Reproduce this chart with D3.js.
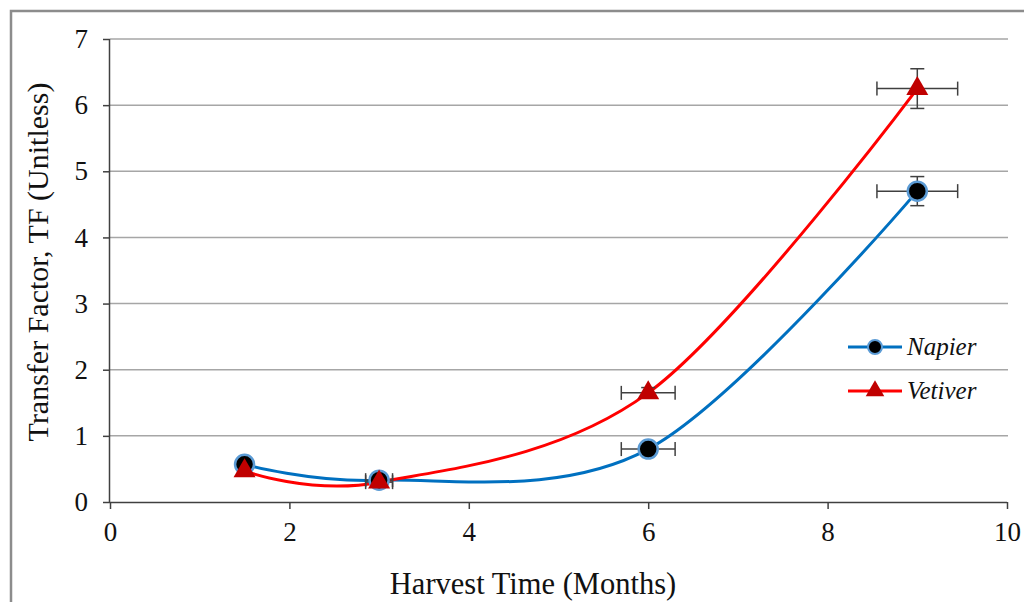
<!DOCTYPE html>
<html>
<head>
<meta charset="utf-8">
<script src="https://cdn.jsdelivr.net/npm/d3@7/dist/d3.min.js"></script>
<style>
  html, body { margin: 0; padding: 0; background: #fff; }
  svg { display: block; }
  svg text { font-family: "Liberation Serif", "Times New Roman", serif !important; fill: #111; }
</style>
</head>
<body>
<svg id="chart" width="1024" height="602"></svg>
<script>
// ---- data ----
const months = [1.5, 3, 6, 9];
const napier = [0.57, 0.33, 0.80, 4.70];
const vetiver = [0.47, 0.30, 1.65, 6.25];
const napierXErr = [0, 0.15, 0.30, 0.45];
const napierYErr = [0, 0.03, 0.05, 0.22];
const vetiverXErr = [0, 0.15, 0.30, 0.45];
const vetiverYErr = [0, 0.03, 0.08, 0.30];
const xTicks = [0, 2, 4, 6, 8, 10];
const yTicks = [0, 1, 2, 3, 4, 5, 6, 7];
const seriesNames = ["Napier", "Vetiver"];
const xTitle = "Harvest Time (Months)";
const yTitle = "Transfer Factor, TF (Unitless)";

(function () {
// ---- layout ----
const svg = d3.select("#chart");
const pL = 110, pR = 1007, pT = 39, pB = 502;
const x = d3.scaleLinear().domain([0, 10]).range([pL, pR]);
const y = d3.scaleLinear().domain([0, 7]).range([pB, pT]);

// outer frame (top + left visible)
svg.append("path")
  .attr("d", `M11,602 L11,11 L1024,11`)
  .attr("fill", "none").attr("stroke", "#8c8c8c").attr("stroke-width", 2.5);

// gridlines
svg.append("g").selectAll("line").data(yTicks.filter(d => d > 0)).join("line")
  .attr("x1", pL).attr("x2", pR + 1)
  .attr("y1", d => y(d)).attr("y2", d => y(d))
  .attr("stroke", "#a6a6a6").attr("stroke-width", 1.5);

// axes
const xAxis = d3.axisBottom(x).tickValues(xTicks).tickSize(7).tickPadding(13).tickFormat(d3.format("d"));
const yAxis = d3.axisLeft(y).tickValues(yTicks).tickSize(7).tickPadding(15).tickFormat(d3.format("d"));

const gx = svg.append("g").attr("transform", `translate(0,${pB})`).call(xAxis);
const gy = svg.append("g").attr("transform", `translate(${pL},0)`).call(yAxis);
[gx, gy].forEach(g => {
  g.attr("font-family", null).attr("font-size", null);
  g.select(".domain").attr("stroke", "#404040").attr("stroke-width", 1.5);
  g.selectAll(".tick line").attr("stroke", "#404040").attr("stroke-width", 1.5);
  g.selectAll(".tick text")
    .style("font-family", "'Liberation Serif', serif")
    .style("font-size", "27px").attr("fill", "#111");
});
gx.select(".domain").attr("d", `M${pL},0.5H${pR}`);
gy.select(".domain").attr("d", `M-0.5,${pT}V${pB}`);

// axis titles
svg.append("text").attr("x", 533).attr("y", 594)
  .attr("text-anchor", "middle").style("font-size", "30.5px").text(xTitle);
svg.append("text").attr("transform", `translate(48,262) rotate(-90)`)
  .attr("text-anchor", "middle").style("font-size", "30px").text(yTitle);

// series
const napierData = months.map((m, i) => ({ x: m, y: napier[i], ex: napierXErr[i], ey: napierYErr[i] }));
const vetiverData = months.map((m, i) => ({ x: m, y: vetiver[i], ex: vetiverXErr[i], ey: vetiverYErr[i] }));

const line = d3.line().x(d => x(d.x)).y(d => y(d.y)).curve(d3.curveCatmullRom.alpha(0));

svg.append("path").datum(napierData).attr("d", line)
  .attr("fill", "none").attr("stroke", "#0070c0").attr("stroke-width", 3);
svg.append("path").datum(vetiverData).attr("d", line)
  .attr("fill", "none").attr("stroke", "#ff0000").attr("stroke-width", 3);

// error bars
function errorBars(data) {
  const g = svg.append("g").attr("stroke", "#404040").attr("stroke-width", 1.5);
  const cap = 7;
  data.forEach(d => {
    if (d.ex > 0) {
      const x0 = x(d.x - d.ex), x1 = x(d.x + d.ex), yy = y(d.y);
      g.append("line").attr("x1", x0).attr("x2", x1).attr("y1", yy).attr("y2", yy);
      g.append("line").attr("x1", x0).attr("x2", x0).attr("y1", yy - cap).attr("y2", yy + cap);
      g.append("line").attr("x1", x1).attr("x2", x1).attr("y1", yy - cap).attr("y2", yy + cap);
    }
    if (d.ey > 0) {
      const y0 = y(d.y - d.ey), y1 = y(d.y + d.ey), xx = x(d.x);
      g.append("line").attr("x1", xx).attr("x2", xx).attr("y1", y0).attr("y2", y1);
      g.append("line").attr("x1", xx - cap).attr("x2", xx + cap).attr("y1", y0).attr("y2", y0);
      g.append("line").attr("x1", xx - cap).attr("x2", xx + cap).attr("y1", y1).attr("y2", y1);
    }
  });
}
errorBars(napierData);
errorBars(vetiverData);

// markers
svg.append("g").selectAll("circle").data(napierData).join("circle")
  .attr("cx", d => x(d.x)).attr("cy", d => y(d.y)).attr("r", 9.5)
  .attr("fill", "#000").attr("stroke", "#5b9bd5").attr("stroke-width", 2.5);
const tri = d3.symbol().type(d3.symbolTriangle).size(210);
svg.append("g").selectAll("path").data(vetiverData).join("path")
  .attr("d", tri).attr("transform", d => `translate(${x(d.x)},${y(d.y)})`)
  .attr("fill", "#c00000");

// legend
const legend = svg.append("g");
const ly = [347, 391];
const colors = ["#0070c0", "#ff0000"];
seriesNames.forEach((name, i) => {
  legend.append("line").attr("x1", 848).attr("x2", 902).attr("y1", ly[i]).attr("y2", ly[i])
    .attr("stroke", colors[i]).attr("stroke-width", 3);
  if (i === 0) {
    legend.append("circle").attr("cx", 875).attr("cy", ly[i]).attr("r", 7)
      .attr("fill", "#000").attr("stroke", "#5b9bd5").attr("stroke-width", 2);
  } else {
    legend.append("path").attr("d", d3.symbol().type(d3.symbolTriangle).size(150))
      .attr("transform", `translate(875,${ly[i]})`).attr("fill", "#c00000");
  }
  legend.append("text").attr("x", 907).attr("y", ly[i] + 8)
    .style("font-size", "25px").attr("font-style", "italic").text(name);
});
})();
</script>
</body>
</html>
